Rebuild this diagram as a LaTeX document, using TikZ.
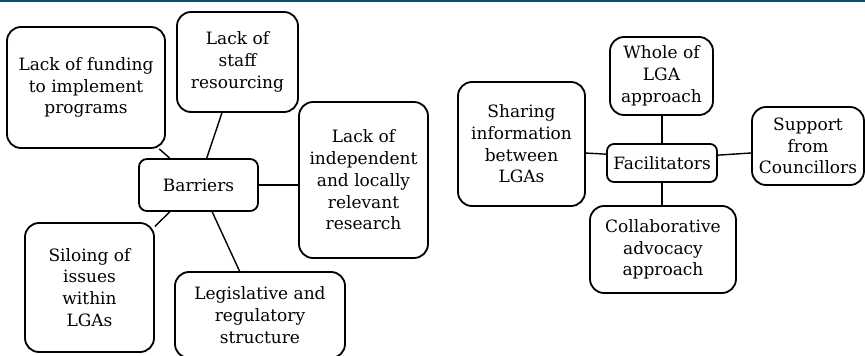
\documentclass[tikz,border=0pt]{standalone}
\usepackage{fontspec}
\setmainfont{DejaVu Serif}
\definecolor{barblue}{HTML}{0F4C6E}
\begin{document}
\begin{tikzpicture}[x=1pt,y=-1pt,
  box/.style={draw=black, line width=1.8pt, rounded corners=14pt, inner sep=0pt, align=center,
    font=\fontsize{17}{21.7}\selectfont},
  smallbox/.style={box, rounded corners=8pt},
  link/.style={draw=black, line width=1.4pt}]
\useasboundingbox (0,0) rectangle (865,356);
\fill[barblue] (0,0) rectangle (865,1.6);
% Barriers
\node[box, minimum width=158pt, minimum height=121pt] (fund) at (86,87.5) {Lack of funding\\to implement\\programs};
\node[box, minimum width=121pt, minimum height=100pt] (staff) at (237.5,62) {Lack of\\staff\\resourcing};
\node[box, minimum width=129pt, minimum height=156pt] (indep) at (363.5,180) {Lack of\\independent\\and locally\\relevant\\research};
\node[smallbox, minimum width=119pt, minimum height=52pt] (barr) at (198.5,185) {Barriers};
\node[box, minimum width=129pt, minimum height=129pt] (silo) at (89.5,287.5) {Siloing of\\issues\\within\\LGAs};
\node[box, minimum width=170pt, minimum height=86pt] (legis) at (260,315) {Legislative and\\regulatory\\structure};
\draw[link] (fund.-40.4) -- (barr.137.6);
\draw[link] (staff.-107.9) -- (barr.73.9);
\draw[link] (barr.east) -- (barr.east -| indep.west);
\draw[link] (barr.-137.5) -- (silo.43.6);
\draw[link] (barr.-63.4) -- (legis.115.5);
% Facilitators
\node[box, minimum width=103pt, minimum height=78pt] (whole) at (661.5,76) {Whole of\\LGA\\approach};
\node[box, minimum width=127pt, minimum height=124pt] (share) at (521.5,144) {Sharing\\information\\between\\LGAs};
\node[smallbox, rounded corners=7pt, minimum width=110pt, minimum height=38pt] (facil) at (662,163) {Facilitators};
\node[box, minimum width=112pt, minimum height=78pt] (supp) at (808,146) {Support\\from\\Councillors};
\node[box, minimum width=146pt, minimum height=87pt] (collab) at (663,249.5) {Collaborative\\advocacy\\approach};
\draw[link] (whole.south -| facil.north) -- (facil.north);
\draw[link] (share.-8.1) -- (facil.171.7);
\draw[link] (facil.8.3) -- (supp.-173.9);
\draw[link] (facil.south) -- (facil.south |- collab.north);
\end{tikzpicture}
\end{document}
